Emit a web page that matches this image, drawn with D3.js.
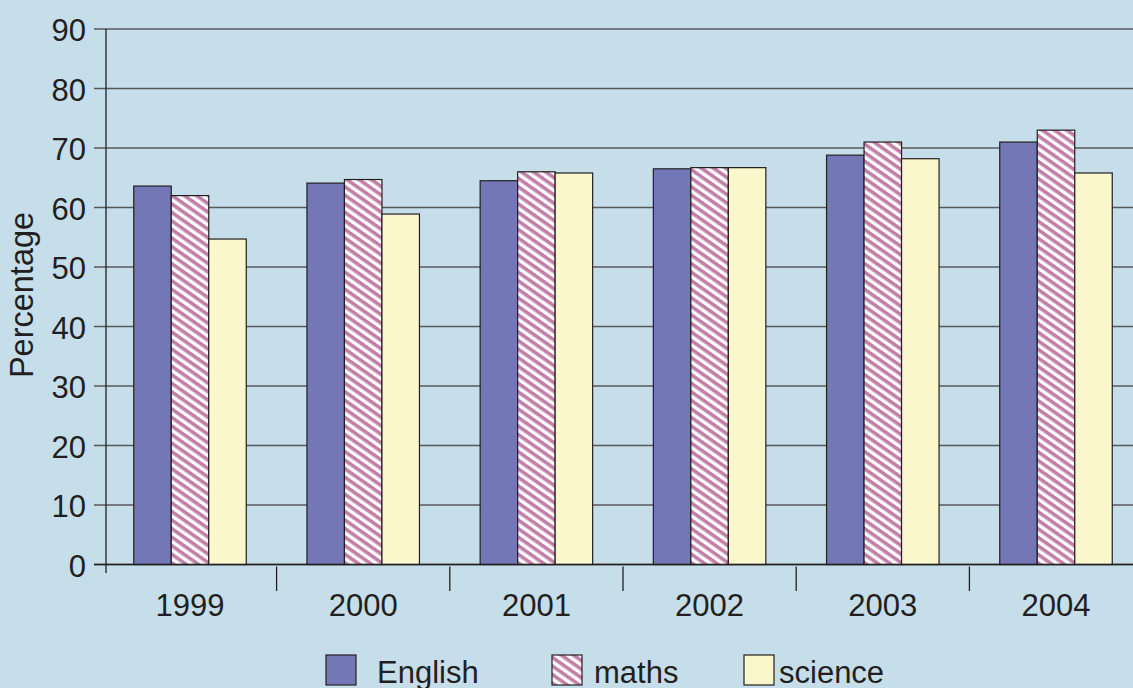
<!DOCTYPE html>
<html>
<head>
<meta charset="utf-8">
<script src="https://cdn.jsdelivr.net/npm/d3@7"></script>
<style>
  body { margin: 0; background: #c5deea; }
  svg { display: block; font-family: "Liberation Sans", Arial, sans-serif; }
</style>
</head>
<body>
<div id="chart"></div>
<script>
// datos
const years = ["1999", "2000", "2001", "2002", "2003", "2004"];
const subjects = ["English", "maths", "science"];
const english = [63.6, 64.1, 64.5, 66.5, 68.8, 71.0];
const maths = [62.0, 64.7, 66.0, 66.7, 71.0, 73.0];
const science = [54.7, 58.9, 65.8, 66.7, 68.2, 65.8];
const yTicks = [0, 10, 20, 30, 40, 50, 60, 70, 80, 90];

const width = 1133, height = 688;
const series = { English: english, maths: maths, science: science };
const fills = { English: "#7377b6", maths: "url(#hatch)", science: "#faf7cc" };

const svg = d3.select("#chart").append("svg")
    .attr("width", width)
    .attr("height", height);

svg.append("rect").attr("width", width).attr("height", height).attr("fill", "#c5deea");

// patron rayado para maths
const defs = svg.append("defs");
const pat = defs.append("pattern")
    .attr("id", "hatch")
    .attr("patternUnits", "userSpaceOnUse")
    .attr("width", 7).attr("height", 7)
    .attr("patternTransform", "rotate(35)");
pat.append("rect").attr("width", 7).attr("height", 7).attr("fill", "#ffffff");
pat.append("rect").attr("width", 7).attr("height", 3.6).attr("fill", "#c27ea6");

// escalas
const y = d3.scaleLinear().domain([0, 90]).range([564.5, 29]);
const x0 = d3.scaleBand().domain(years).range([103.4, 103.4 + 6 * 173.2]);
const bw = x0.bandwidth();
const x1 = d3.scaleBand().domain(subjects).range([(bw - 112.5) / 2, (bw + 112.5) / 2]);

// lineas de la grilla
svg.append("g").selectAll("line")
    .data(yTicks)
    .enter().append("line")
    .attr("x1", 94).attr("x2", width)
    .attr("y1", d => y(d)).attr("y2", d => y(d))
    .attr("stroke", "#58595b")
    .attr("stroke-width", 1.6);

// etiquetas eje y
svg.append("g").selectAll("text")
    .data(yTicks)
    .enter().append("text")
    .attr("x", 86)
    .attr("y", d => y(d) + 12)
    .attr("text-anchor", "end")
    .style("font-size", "31px")
    .attr("fill", "#231f20")
    .text(d => d);

// eje vertical
svg.append("line")
    .attr("x1", 106).attr("x2", 106)
    .attr("y1", y(90)).attr("y2", 573)
    .attr("stroke", "#231f20").attr("stroke-width", 1.3);

// barras
const groups = svg.append("g").selectAll("g")
    .data(years)
    .enter().append("g")
    .attr("transform", d => `translate(${x0(d)},0)`);

groups.selectAll("rect")
    .data((d, i) => subjects.map(s => ({ s, v: series[s][i] })))
    .enter().append("rect")
    .attr("x", d => x1(d.s))
    .attr("y", d => y(d.v))
    .attr("width", x1.bandwidth())
    .attr("height", d => y(0) - y(d.v))
    .attr("fill", d => fills[d.s])
    .attr("stroke", "#231f20")
    .attr("stroke-width", 1.2);

// eje x
svg.append("line")
    .attr("x1", 94).attr("x2", width)
    .attr("y1", y(0)).attr("y2", y(0))
    .attr("stroke", "#231f20").attr("stroke-width", 1.3);

svg.append("g").selectAll("line")
    .data(years.slice(1))
    .enter().append("line")
    .attr("x1", d => x0(d)).attr("x2", d => x0(d))
    .attr("y1", y(0) + 2).attr("y2", 591)
    .attr("stroke", "#231f20").attr("stroke-width", 1.3);

svg.append("g").selectAll("text")
    .data(years)
    .enter().append("text")
    .attr("x", d => x0(d) + bw / 2)
    .attr("y", 616)
    .attr("text-anchor", "middle")
    .style("font-size", "31px")
    .attr("fill", "#231f20")
    .text(d => d);

// titulo eje y
svg.append("text")
    .attr("transform", "translate(33,295) rotate(-90)")
    .attr("text-anchor", "middle")
    .style("font-size", "32.5px")
    .attr("fill", "#231f20")
    .text("Percentage");

// leyenda
const legendX = [326, 552, 744];
const legend = svg.append("g").selectAll("g")
    .data(subjects)
    .enter().append("g")
    .attr("transform", (d, i) => `translate(${legendX[i]},655)`);

legend.append("rect")
    .attr("width", 30).attr("height", 30)
    .attr("fill", d => fills[d])
    .attr("stroke", "#231f20")
    .attr("stroke-width", 1.2);

legend.append("text")
    .attr("x", (d, i) => [51, 42, 35][i])
    .attr("y", 27.5)
    .style("font-size", "31px")
    .attr("fill", "#231f20")
    .text(d => d);
</script>
</body>
</html>
